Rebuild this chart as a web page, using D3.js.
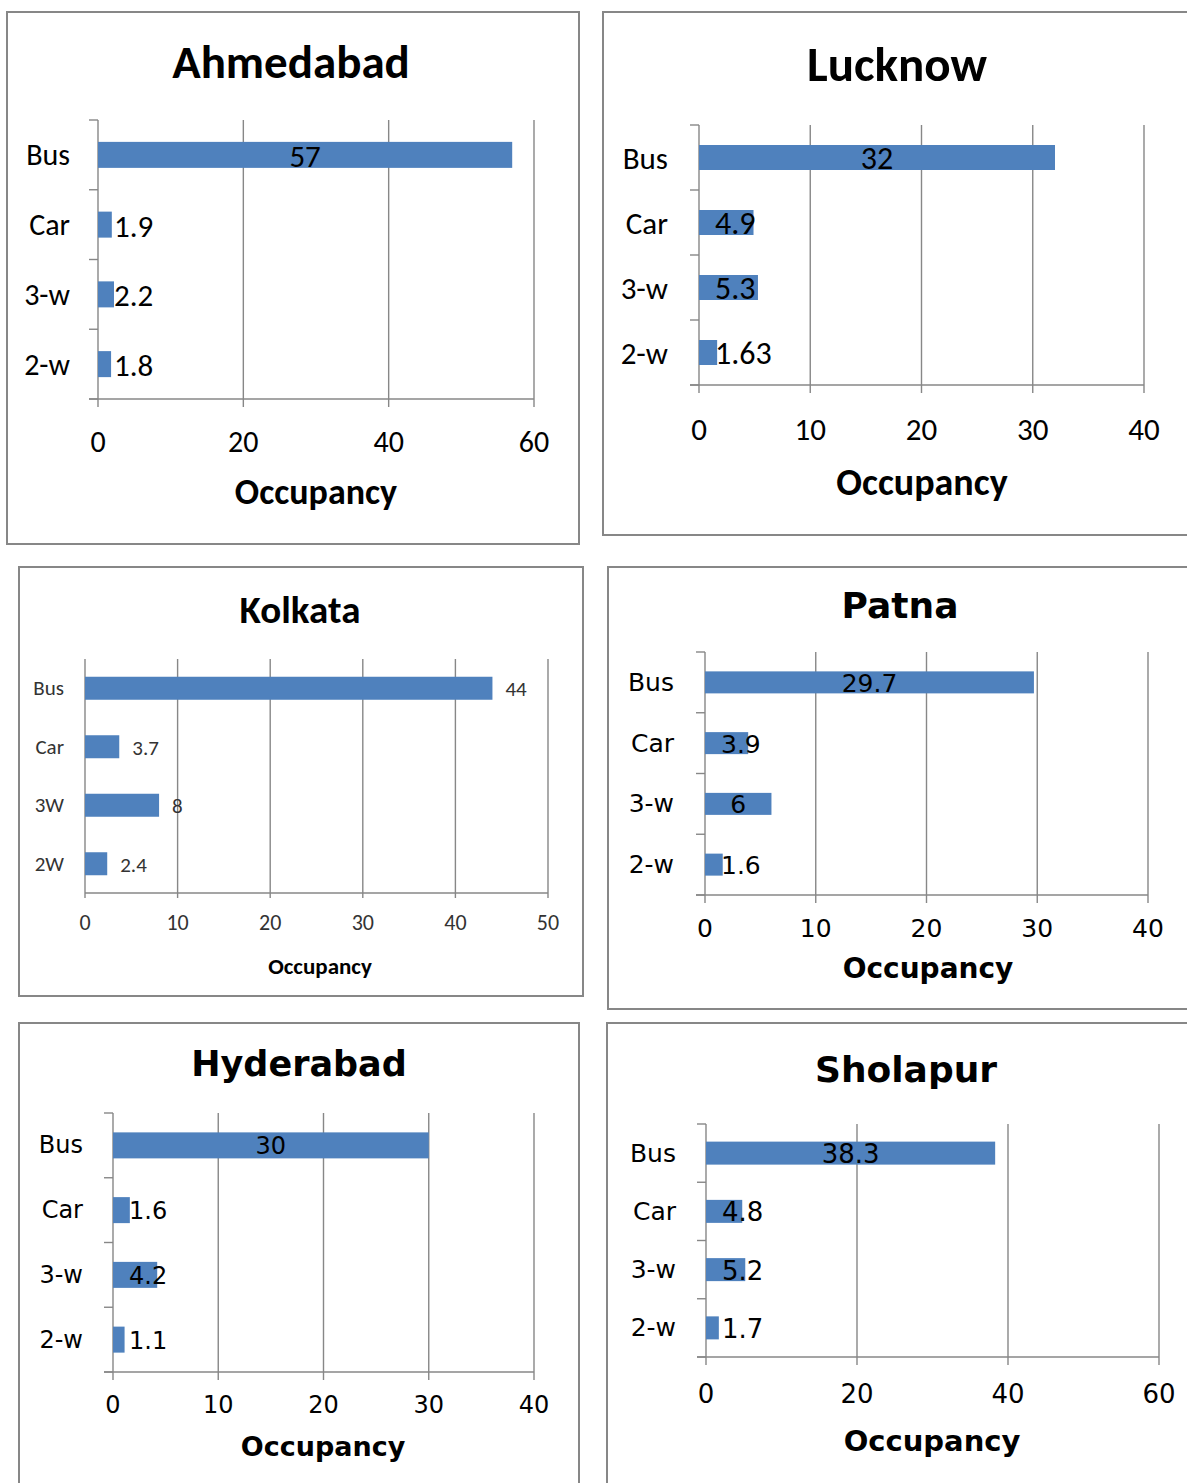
<!DOCTYPE html>
<html>
<head>
<meta charset="utf-8">
<script src="https://cdn.jsdelivr.net/npm/d3@7"></script>
<style>
  html, body { margin: 0; padding: 0; background: #fff; }
  svg { display: block; }
</style>
</head>
<body>
<svg id="chart" width="1187" height="1483"></svg>
<script>
// Average vehicle occupancy by mode, six Indian cities
const cities = ["Ahmedabad", "Lucknow", "Kolkata", "Patna", "Hyderabad", "Sholapur"];
const modesAhmedabad = ["Bus", "Car", "3-w", "2-w"];
const modesLucknow   = ["Bus", "Car", "3-w", "2-w"];
const modesKolkata   = ["Bus", "Car", "3W", "2W"];
const modesPatna     = ["Bus", "Car", "3-w", "2-w"];
const modesHyderabad = ["Bus", "Car", "3-w", "2-w"];
const modesSholapur  = ["Bus", "Car", "3-w", "2-w"];

const occAhmedabad = [57, 1.9, 2.2, 1.8];
const occLucknow   = [32, 4.9, 5.3, 1.63];
const occKolkata   = [44, 3.7, 8, 2.4];
const occPatna     = [29.7, 3.9, 6, 1.6];
const occHyderabad = [30, 1.6, 4.2, 1.1];
const occSholapur  = [38.3, 4.8, 5.2, 1.7];

const ticksAhmedabad = [0, 20, 40, 60];
const ticksLucknow   = [0, 10, 20, 30, 40];
const ticksKolkata   = [0, 10, 20, 30, 40, 50];
const ticksPatna     = [0, 10, 20, 30, 40];
const ticksHyderabad = [0, 10, 20, 30, 40];
const ticksSholapur  = [0, 20, 40, 60];

const axisTitle = "Occupancy";

const CAL = "Carlito, Lato, 'Open Sans', sans-serif";
const VER = "'DejaVu Sans', Verdana, sans-serif";
const BAR = "#4f81bd";
const GRID = "#878787";

// panel layout: frame, plot area and type settings
const panels = [
  { city: cities[0], modes: modesAhmedabad, vals: occAhmedabad, ticks: ticksAhmedabad,
    frame: [7, 12, 572, 532], plot: [98, 120, 534, 399],
    title: { x: 291, y: 62, size: 47, font: CAL },
    cat: { x: 70, size: 30, font: CAL, color: "#000" }, catTicks: true,
    tick: { y: 441, size: 30, font: CAL, color: "#000" },
    axt: { x: 316, y: 492, size: 36, font: CAL },
    lab: { size: 31, font: CAL, mode: "center" }, barH: 26 },
  { city: cities[1], modes: modesLucknow, vals: occLucknow, ticks: ticksLucknow,
    frame: [603, 12, 700, 523], plot: [699, 125, 1144, 385],
    title: { x: 897, y: 64, size: 49, font: CAL },
    cat: { x: 668, size: 31, font: CAL, color: "#000" }, catTicks: true,
    tick: { y: 429, size: 31, font: CAL, color: "#000" },
    axt: { x: 922, y: 482, size: 38, font: CAL },
    lab: { size: 32, font: CAL, mode: "center" }, barH: 25 },
  { city: cities[2], modes: modesKolkata, vals: occKolkata, ticks: ticksKolkata,
    frame: [19, 567, 564, 429], plot: [85, 659, 548, 893],
    title: { x: 300, y: 609, size: 39, font: CAL },
    cat: { x: 64, size: 21, font: CAL, color: "#333" }, catTicks: false,
    tick: { y: 922, size: 22, font: CAL, color: "#333" },
    axt: { x: 320, y: 966, size: 23, font: CAL },
    lab: { size: 21, font: CAL, mode: "outside", color: "#333" }, barH: 23 },
  { city: cities[3], modes: modesPatna, vals: occPatna, ticks: ticksPatna,
    frame: [608, 567, 700, 442], plot: [705, 652, 1148, 895],
    title: { x: 900, y: 605, size: 36, font: VER },
    cat: { x: 674, size: 25, font: VER, color: "#000" }, catTicks: true,
    tick: { y: 928, size: 25, font: VER, color: "#000" },
    axt: { x: 928, y: 968, size: 28, font: VER },
    lab: { size: 25, font: VER, mode: "center" }, barH: 22 },
  { city: cities[4], modes: modesHyderabad, vals: occHyderabad, ticks: ticksHyderabad,
    frame: [19, 1023, 560, 600], plot: [113, 1113, 534, 1372],
    title: { x: 299, y: 1064, size: 35, font: VER },
    cat: { x: 83, size: 24, font: VER, color: "#000" }, catTicks: true,
    tick: { y: 1405, size: 24, font: VER, color: "#000" },
    axt: { x: 323, y: 1446, size: 27, font: VER },
    lab: { size: 24, font: VER, mode: "center" }, barH: 26 },
  { city: cities[5], modes: modesSholapur, vals: occSholapur, ticks: ticksSholapur,
    frame: [607, 1023, 700, 600], plot: [706, 1124, 1159, 1357],
    title: { x: 906, y: 1069, size: 36, font: VER },
    cat: { x: 676, size: 25, font: VER, color: "#000" }, catTicks: true,
    tick: { y: 1394, size: 26, font: VER, color: "#000" },
    axt: { x: 932, y: 1441, size: 29, font: VER },
    lab: { size: 26, font: VER, mode: "center" }, barH: 23 }
];

const svg = d3.select("#chart");

panels.forEach(p => {
  const g = svg.append("g");
  const [fx, fy, fw, fh] = p.frame;
  g.append("rect")
    .attr("x", fx).attr("y", fy).attr("width", fw).attr("height", fh)
    .attr("fill", "#fff").attr("stroke", GRID).attr("stroke-width", 2);

  const [x0, y0, x1, y1] = p.plot;
  const x = d3.scaleLinear().domain([0, p.ticks[p.ticks.length - 1]]).range([x0, x1]);
  const y = d3.scaleBand().domain(p.modes).range([y0, y1]);
  const step = y.step();

  // vertical gridlines with small ticks below the axis
  g.selectAll("line.grid").data(p.ticks).enter().append("line")
    .attr("x1", d => x(d)).attr("x2", d => x(d))
    .attr("y1", y0).attr("y2", y1 + (p.catTicks ? 8 : 5))
    .attr("stroke", GRID).attr("stroke-width", 1.4);

  // category axis tick marks
  if (p.catTicks) {
    const bounds = [y0].concat(p.modes.map(m => y(m) + step));
    g.selectAll("line.ctick").data(bounds).enter().append("line")
      .attr("x1", x0 - 9).attr("x2", x0)
      .attr("y1", d => d).attr("y2", d => d)
      .attr("stroke", GRID).attr("stroke-width", 1.4);
  }

  // value axis line
  g.append("line")
    .attr("x1", x0 - (p.catTicks ? 9 : 0)).attr("x2", x1)
    .attr("y1", y1).attr("y2", y1)
    .attr("stroke", GRID).attr("stroke-width", 1.4);

  // bars
  g.selectAll("rect.bar").data(p.vals).enter().append("rect")
    .attr("x", x0)
    .attr("y", (d, i) => y(p.modes[i]) + step / 2 - p.barH / 2)
    .attr("width", d => x(d) - x0)
    .attr("height", p.barH)
    .attr("fill", BAR);

  // category labels
  g.selectAll("text.cat").data(p.modes).enter().append("text")
    .attr("x", p.cat.x).attr("y", d => y(d) + step / 2)
    .attr("text-anchor", "end").attr("dominant-baseline", "central")
    .attr("font-family", p.cat.font).attr("font-size", p.cat.size)
    .attr("fill", p.cat.color).text(d => d);

  // value tick labels
  g.selectAll("text.tick").data(p.ticks).enter().append("text")
    .attr("x", d => x(d)).attr("y", p.tick.y)
    .attr("text-anchor", "middle").attr("dominant-baseline", "central")
    .attr("font-family", p.tick.font).attr("font-size", p.tick.size)
    .attr("fill", p.tick.color).text(d => d);

  // data labels
  g.selectAll("text.val").data(p.vals).enter().append("text")
    .attr("y", (d, i) => y(p.modes[i]) + step / 2 + 1)
    .attr("dominant-baseline", "central")
    .attr("font-family", p.lab.font).attr("font-size", p.lab.size)
    .attr("fill", p.lab.color || "#000")
    .text(d => d)
    .each(function (d) {
      const t = d3.select(this);
      if (p.lab.mode === "outside") {
        t.attr("text-anchor", "start").attr("x", x(d) + 13);
      } else {
        const w = this.getComputedTextLength();
        const cx = Math.max((x0 + x(d)) / 2, x0 + 16 + w / 2);
        t.attr("text-anchor", "middle").attr("x", cx);
      }
    });

  // chart title
  g.append("text")
    .attr("x", p.title.x).attr("y", p.title.y)
    .attr("text-anchor", "middle").attr("dominant-baseline", "central")
    .attr("font-family", p.title.font).attr("font-weight", "bold")
    .attr("font-size", p.title.size).attr("fill", "#000").text(p.city);

  // axis title
  g.append("text")
    .attr("x", p.axt.x).attr("y", p.axt.y)
    .attr("text-anchor", "middle").attr("dominant-baseline", "central")
    .attr("font-family", p.axt.font).attr("font-weight", "bold")
    .attr("font-size", p.axt.size).attr("fill", "#000").text(axisTitle);
});
</script>
</body>
</html>
